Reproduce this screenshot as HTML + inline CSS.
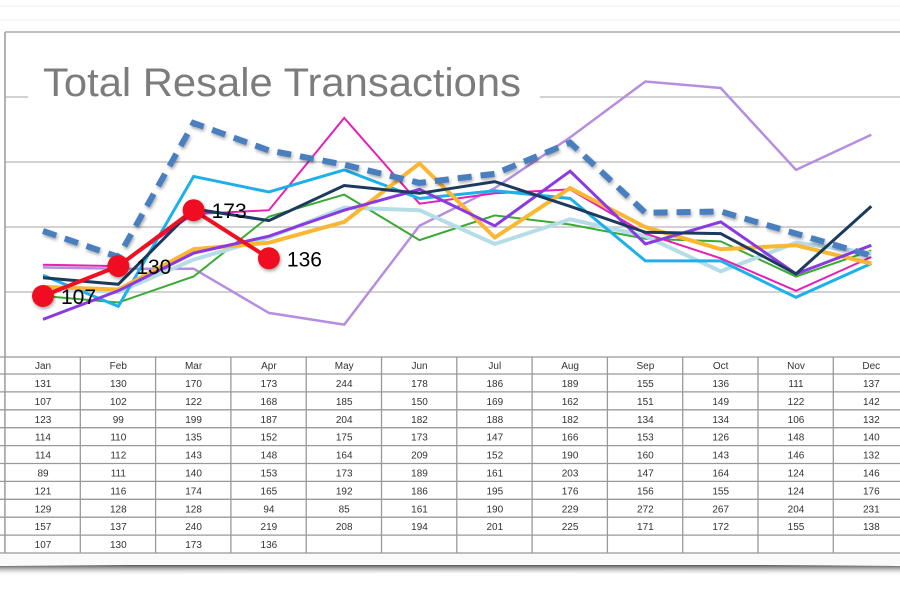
<!DOCTYPE html>
<html><head><meta charset="utf-8"><style>
html,body{margin:0;padding:0;background:#fff;width:900px;height:600px;overflow:hidden}
svg{display:block}
</style></head><body>
<svg id="s" width="900" height="600" xmlns="http://www.w3.org/2000/svg" font-family="Liberation Sans, sans-serif">
<defs>
<linearGradient id="sh" x1="0" y1="0" x2="0" y2="1">
<stop offset="0" stop-color="#333" stop-opacity="1"/><stop offset="1" stop-color="#fff" stop-opacity="0"/>
</linearGradient>
<filter id="ds" x="-10%" y="-10%" width="120%" height="130%"><feDropShadow dx="1" dy="2" stdDeviation="1.5" flood-opacity="0.35"/></filter>
</defs>
<line x1="0" y1="6" x2="900" y2="6" stroke="#f0f0f0"/>
<line x1="0" y1="20" x2="900" y2="20" stroke="#eee"/>
<path d="M0 566 Q450 562 900 566 L900 576 Q450 570 0 576Z" fill="url(#sh)"/>
<rect x="0" y="554" width="900" height="11" fill="#fafafa"/>
<g id="grid" stroke="#c4c4c4" stroke-width="1.5"></g>
<line x1="5" y1="32" x2="5" y2="553" stroke="#999" stroke-width="1.5"/>
<line x1="5" y1="32" x2="900" y2="32" stroke="#aaa" stroke-width="1.5"/>
<rect x="28" y="60" width="512" height="50" fill="#fff"/>
<text x="43" y="96" font-size="40" fill="#7c7c7c" textLength="478" lengthAdjust="spacingAndGlyphs">Total Resale Transactions</text>
<g id="lines" fill="none" stroke-linejoin="miter"></g>
<g id="tbl" font-size="10" fill="#333" text-anchor="middle"></g>
</svg>
<script>
var NS="http://www.w3.org/2000/svg";
function el(p,t,a,txt){var e=document.createElementNS(NS,t);for(var k in a)e.setAttribute(k,a[k]);if(txt!=null)e.textContent=txt;p.appendChild(e);return e;}
var g=document.getElementById('grid');
[97,162,227,292].forEach(function(y){el(g,'line',{x1:5,x2:900,y1:y,y2:y});});
var data=[
[131,130,170,173,244,178,186,189,155,136,111,137],
[107,102,122,168,185,150,169,162,151,149,122,142],
[123,99,199,187,204,182,188,182,134,134,106,132],
[114,110,135,152,175,173,147,166,153,126,148,140],
[114,112,143,148,164,209,152,190,160,143,146,132],
[89,111,140,153,173,189,161,203,147,164,124,146],
[121,116,174,165,192,186,195,176,156,155,124,176],
[129,128,128,94,85,161,190,229,272,267,204,231],
[157,137,240,219,208,194,201,225,171,172,155,138],
[107,130,173,136]];
var st=[
{c:"#e61fb5",w:2},{c:"#3aaa35",w:2},{c:"#1eb0ea",w:3},{c:"#b5dde8",w:4},{c:"#fbb731",w:4},
{c:"#8a3ae0",w:3},{c:"#1c3a5e",w:3},{c:"#b68ee0",w:2.5},{c:"#4a7fbf",w:6,d:"14 9"},{c:"#f01020",w:4}];
function X(i){return 43+75.3*i}function Y(v){return 435.1-1.3*v}
var L=document.getElementById('lines');
var order=[7,1,3,0,2,4,5,6,8,9];
order.forEach(function(r){var p=data[r].map(function(v,i){return X(i).toFixed(1)+","+Y(v).toFixed(1)}).join(" ");
var a={points:p,stroke:st[r].c,"stroke-width":st[r].w};if(st[r].d){a["stroke-dasharray"]=st[r].d;a.filter="url(#ds)";}
el(L,'polyline',a);});
data[9].forEach(function(v,i){el(L,'circle',{cx:X(i),cy:Y(v),r:11,fill:"#f01020",stroke:"none",filter:"url(#ds)"});
el(L,'text',{x:X(i)+18,y:Y(v)+8,"font-size":21,fill:"#000",stroke:"none"},v);});
var T=document.getElementById('tbl');
el(T,'rect',{x:5,y:357,width:900,height:196,fill:"#fff"});
var rowsY=[357];for(var k=0;k<=10;k++)rowsY.push(374+k*17.9);
rowsY.forEach(function(y){el(T,'line',{x1:0,x2:900,y1:y,y2:y,stroke:"#999","stroke-width":1.3});});
for(var c=0;c<=12;c++){var x=5+75.3*c;el(T,'line',{x1:x,x2:x,y1:357,y2:553,stroke:"#999","stroke-width":1.3});}
var m=["Jan","Feb","Mar","Apr","May","Jun","Jul","Aug","Sep","Oct","Nov","Dec"];
m.forEach(function(s,i){el(T,'text',{x:X(i),y:369},s);});
data.forEach(function(row,r){row.forEach(function(v,i){el(T,'text',{x:X(i),y:387+r*17.9},v);});});
</script>
</body></html>
